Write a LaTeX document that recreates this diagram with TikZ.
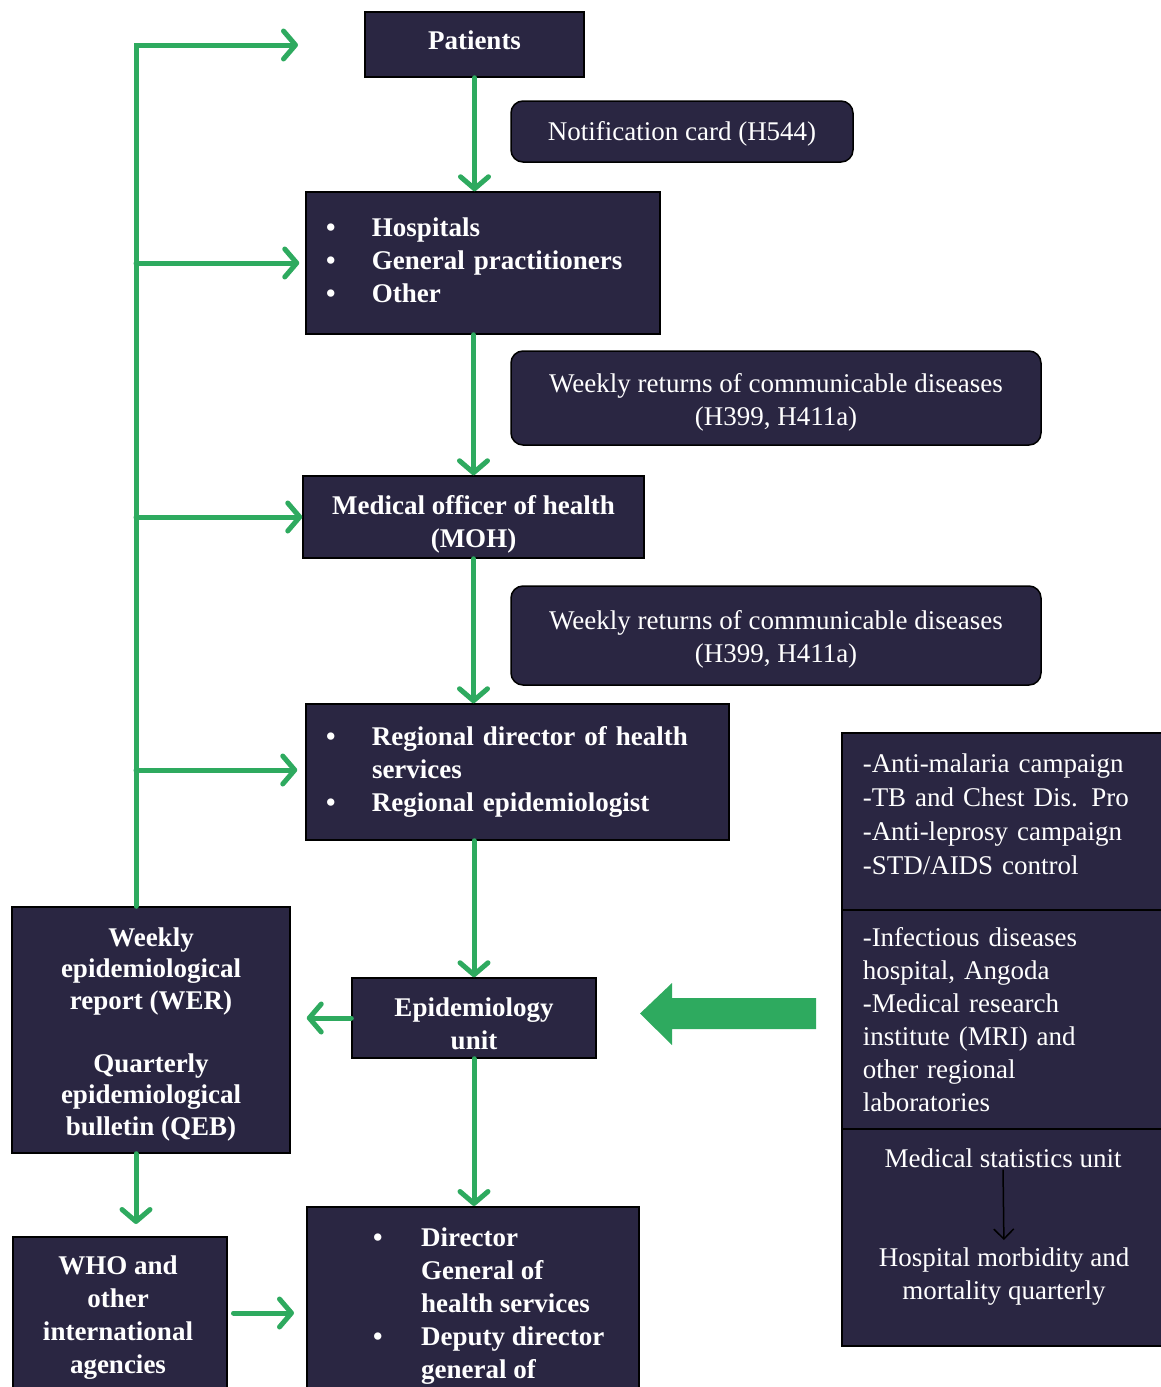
\documentclass[tikz,border=0pt]{standalone}
\usepackage{fontspec}
\setmainfont{Liberation Serif}
\usetikzlibrary{arrows.meta,calc}
\definecolor{navy}{RGB}{42,38,66}
\definecolor{grn}{RGB}{46,170,95}
\begin{document}
\begin{tikzpicture}[x=1pt,y=-1pt,
  box/.style={draw=black, line width=1.5pt, fill=navy, text=white, inner sep=0pt,
    font={\fontsize{27}{33}\selectfont\bfseries}, align=center},
  rbox/.style={box, rounded corners=12pt, font={\fontsize{27}{33}\selectfont}},
  txt/.style={text=white, inner sep=0pt, font={\fontsize{27}{33}\selectfont\bfseries}},
  rtxt/.style={text=white, inner sep=0pt, font={\fontsize{27}{33}\selectfont}},
  gline/.style={draw=grn, line width=5pt, line cap=round},
  garrow/.style={gline, -{Straight Barb[length=12pt,width=28pt,round]}},
]
\useasboundingbox (0,0) rectangle (1161,1387);
\clip (0,0) rectangle (1161,1387);

% main column
\node[box, minimum width=219pt, minimum height=65pt] (pat) at (474.5,44.5) {Patients\rule[-8pt]{0pt}{0pt}};
\node[rbox, minimum width=342pt, minimum height=61pt] (notif) at (682,131.5) {\rule{0pt}{23pt}Notification card (H544)};
\node[box, minimum width=354pt, minimum height=142pt, text width=314pt, inner xsep=20pt, align=left] (hosp) at (483,263)
  {\begin{tabular}{@{}p{46pt}@{}l@{}}\textbullet & Hospitals\\ \textbullet & General practitioners\\ \textbullet & Other\end{tabular}};
\node[rbox, minimum width=530pt, minimum height=94pt] (wr1) at (776,398) {\rule{0pt}{27pt}Weekly returns of communicable diseases\\(H399, H411a)};
\node[box, minimum width=341pt, minimum height=82pt] (moh) at (473.5,517) {\rule{0pt}{33pt}Medical officer of health\\(MOH)};
\node[rbox, minimum width=530pt, minimum height=99pt] (wr2) at (776,635.5) {\rule{0pt}{27pt}Weekly returns of communicable diseases\\(H399, H411a)};
\node[box, minimum width=423pt, minimum height=136pt, text width=383pt, inner xsep=20pt, align=left] (reg) at (517.5,772)
  {\begin{tabular}{@{}p{46pt}@{}l@{}}\textbullet & Regional director of health\\ & services\\ \textbullet & Regional epidemiologist\end{tabular}};
\node[box, minimum width=244pt, minimum height=80pt] (epi) at (474,1018) {\rule{0pt}{31pt}Epidemiology\\unit};
\node[box, anchor=north west, minimum width=332pt, minimum height=220pt] (dir) at (306,1206) {};
\node[txt, anchor=base west] (dirt) at (373,1246)
  {\begin{tabular}[t]{@{}p{48pt}@{}l@{}}\textbullet & Director\\ & General of\\ & health services\\ \textbullet & Deputy director\\ & general of\end{tabular}};

% left column
\node[box, minimum width=278pt, minimum height=246pt, font={\fontsize{27}{31.5}\selectfont\bfseries}] (wer) at (151,1030)
  {\rule{0pt}{27pt}Weekly\\epidemiological\\report (WER)\\[31.5pt]Quarterly\\epidemiological\\bulletin (QEB)};
\node[box, anchor=north west, minimum width=214pt, minimum height=200pt] (who) at (12,1236) {};
\node[txt, anchor=base] (whot) at (118,1274)
  {\begin{tabular}[t]{@{}c@{}}WHO and\\other\\international\\agencies\end{tabular}};

% right column
\node[box, anchor=north west, minimum width=340pt, minimum height=177pt, text width=298pt, inner xsep=21pt, align=left,
  font={\fontsize{27}{34}\selectfont}] (s1) at (841,732)
  {-Anti-malaria campaign\\-TB and Chest Dis. Pro\\-Anti-leprosy campaign\\-STD/AIDS control\rule[-14pt]{0pt}{0pt}};
\node[box, anchor=north west, minimum width=340pt, minimum height=219pt, text width=298pt, inner xsep=21pt, align=left,
  font={\fontsize{27}{33}\selectfont}] (s2) at (841,909)
  {-Infectious diseases\\hospital, Angoda\\-Medical research\\institute (MRI) and\\other regional\\laboratories};
\node[box, anchor=north west, minimum width=340pt, minimum height=217pt] (s3) at (841,1128) {};
\node[rtxt] (mstat) at (1003,1158) {Medical statistics unit};
\node[rtxt, align=center] (hmm) at (1004,1277) {Hospital morbidity and\\mortality quarterly};
\draw[black, line width=1.5pt, shorten <=2pt, shorten >=8pt, -{Straight Barb[length=10pt,width=20pt]}] (mstat.south) -- (hmm.north);

% green feedback line
\coordinate (c0) at (136,45);
\coordinate (patin) at (298,45);
\coordinate (b1) at (136,263);
\coordinate (b2) at (136,517);
\coordinate (b3) at (136,770);
\draw[garrow] (wer.north -| c0) -- (c0) -- (patin);
\draw[garrow, shorten >=6pt] (b1) -- (hosp.west |- b1);
\draw[garrow] (b2) -- (moh.west);
\draw[garrow, shorten >=8pt] (b3) -- (reg.west |- b3);

% main flow
\draw[garrow] (pat.south) -- (pat.south |- hosp.north);
\draw[garrow] (moh.north |- hosp.south) -- (moh.north);
\draw[garrow] (moh.south) -- (moh.south |- reg.north);
\draw[garrow] (epi.north |- reg.south) -- (epi.north);
\draw[garrow] (epi.south) -- (epi.south |- dir.north);
\draw[garrow, shorten >=16pt] (epi.west) -- (epi.west -| wer.east);
\draw[garrow, shorten >=12pt] (wer.south -| c0) -- (who.north -| c0);
\coordinate (w1) at (226,1313);
\draw[garrow, shorten <=6pt, shorten >=12pt] (who.east |- w1) -- (dir.west |- w1);

% block arrow from right column to epidemiology unit
\fill[grn] (816,998) -- (672,998) -- (672,983) -- (640,1013.5) -- (672,1045) -- (672,1029) -- (816,1029) -- cycle;
\end{tikzpicture}
\end{document}
